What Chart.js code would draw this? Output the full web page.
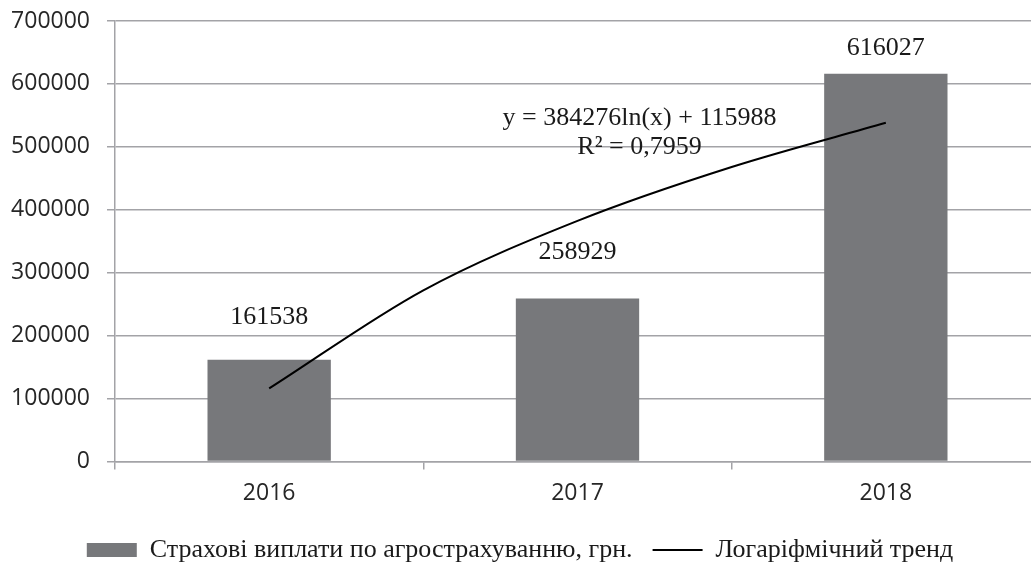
<!DOCTYPE html>
<html>
<head>
<meta charset="utf-8">
<script src="https://cdn.jsdelivr.net/npm/chart.js@4"></script>
<style>
  html, body { margin: 0; padding: 0; background: #fff; overflow: hidden; }
  canvas { display: block; }
</style>
</head>
<body>
<canvas id="agroChart" width="1040" height="566"></canvas>
<script>
// Дані діаграми
const years = ['2016', '2017', '2018'];
const payments = [161538, 258929, 616027];
// лінія логарифмічного тренду (1 = 2016, 3 = 2018)
const trendX = [1, 1.5, 2, 2.5, 3];
const trendY = [115988, 272000, 382345, 468000, 538157];
const yTicks = [0, 100000, 200000, 300000, 400000, 500000, 600000, 700000];
const seriesName = 'Страхові виплати по агрострахуванню, грн.';
const trendName = 'Логаріфмічний тренд';
const equationLines = ['y = 384276ln(x) + 115988', 'R² = 0,7959'];

const gridColor = '#a3a3a7';
const barColor = '#77787b';

// Підписи значень над стовпцями
const valueLabels = {
  id: 'valueLabels',
  afterDatasetsDraw(chart, args, opts) {
    const ctx = chart.ctx;
    const meta = chart.getDatasetMeta(0);
    ctx.save();
    ctx.font = '26px "Liberation Serif", "Times New Roman", serif';
    ctx.fillStyle = '#1a1a1a';
    ctx.textAlign = 'center';
    ctx.textBaseline = 'middle';
    meta.data.forEach((bar, i) => {
      ctx.fillText(String(payments[i]), bar.x, bar.y - opts.offsets[i]);
    });
    ctx.restore();
  }
};

// Рівняння тренду
const trendEquation = {
  id: 'trendEquation',
  afterDatasetsDraw(chart, args, opts) {
    const ctx = chart.ctx;
    const x = chart.scales.x;
    const y = chart.scales.y;
    const cx = x.getPixelForValue(1) + opts.dx;
    ctx.save();
    ctx.font = '26px "Liberation Serif", "Times New Roman", serif';
    ctx.fillStyle = '#1a1a1a';
    ctx.textAlign = 'center';
    ctx.textBaseline = 'middle';
    equationLines.forEach((line, i) => {
      ctx.fillText(line, cx, y.getPixelForValue(opts.yValue) + i * 29);
    });
    ctx.restore();
  }
};

new Chart(document.getElementById('agroChart'), {
  type: 'bar',
  data: {
    labels: years,
    datasets: [{
      label: seriesName,
      data: payments,
      backgroundColor: barColor,
      borderWidth: 0,
      grouped: false,
      categoryPercentage: 1,
      barPercentage: 0.4,
      order: 2
    }, {
      type: 'line',
      label: trendName,
      data: trendX.map((x, i) => ({ x: x, y: trendY[i] })),
      xAxisID: 'xt',
      borderColor: '#000',
      borderWidth: 2,
      pointRadius: 0,
      fill: false,
      cubicInterpolationMode: 'monotone',
      order: 1
    }]
  },
  options: {
    responsive: false,
    animation: false,
    devicePixelRatio: 1,
    layout: { padding: { top: 0, right: 0, bottom: -7, left: 0 } },
    plugins: {
      legend: {
        position: 'bottom',
        labels: {
          usePointStyle: true,
          pointStyleWidth: 50,
          boxHeight: 14,
          padding: 20,
          color: '#1a1a1a',
          font: { family: '"Liberation Serif", "Times New Roman", serif', size: 26 },
          sort: (a, b) => a.datasetIndex - b.datasetIndex,
          generateLabels(chart) {
            const items = Chart.defaults.plugins.legend.labels.generateLabels(chart);
            items.forEach(item => {
              if (item.datasetIndex === 0) {
                item.pointStyle = 'rect';
                item.lineWidth = 0;
                item.fillStyle = barColor;
              } else {
                item.pointStyle = 'line';
                item.lineWidth = 2;
                item.strokeStyle = '#000';
              }
            });
            return items;
          }
        }
      },
      tooltip: { enabled: false },
      valueLabels: { offsets: [43, 46, 26] },
      trendEquation: { dx: 62, yValue: 545700 }
    },
    scales: {
      x: {
        grid: {
          drawOnChartArea: false,
          drawTicks: true,
          tickLength: 8,
          color: gridColor,
          lineWidth: 1.5
        },
        border: { display: true, color: gridColor, width: 1.5 },
        ticks: {
          color: '#262626',
          padding: 10,
          font: { family: '"Open Sans", sans-serif', size: 23 }
        }
      },
      xt: {
        type: 'linear',
        display: false,
        offset: false,
        min: 0.5,
        max: 3.5
      },
      y: {
        min: 0,
        max: 700000,
        afterFit(scale) {
          scale.width = 115;
          scale.paddingTop = 21;
        },
        afterBuildTicks(scale) { scale.ticks = yTicks.map(v => ({ value: v })); },
        grid: {
          color: gridColor,
          lineWidth: 1.5,
          drawTicks: true,
          tickLength: 8
        },
        border: { display: true, color: gridColor, width: 1.5 },
        ticks: {
          color: '#262626',
          padding: 17,
          font: { family: '"Open Sans", sans-serif', size: 23 },
          callback: v => String(v)
        }
      }
    }
  },
  plugins: [valueLabels, trendEquation]
});
</script>
</body>
</html>
